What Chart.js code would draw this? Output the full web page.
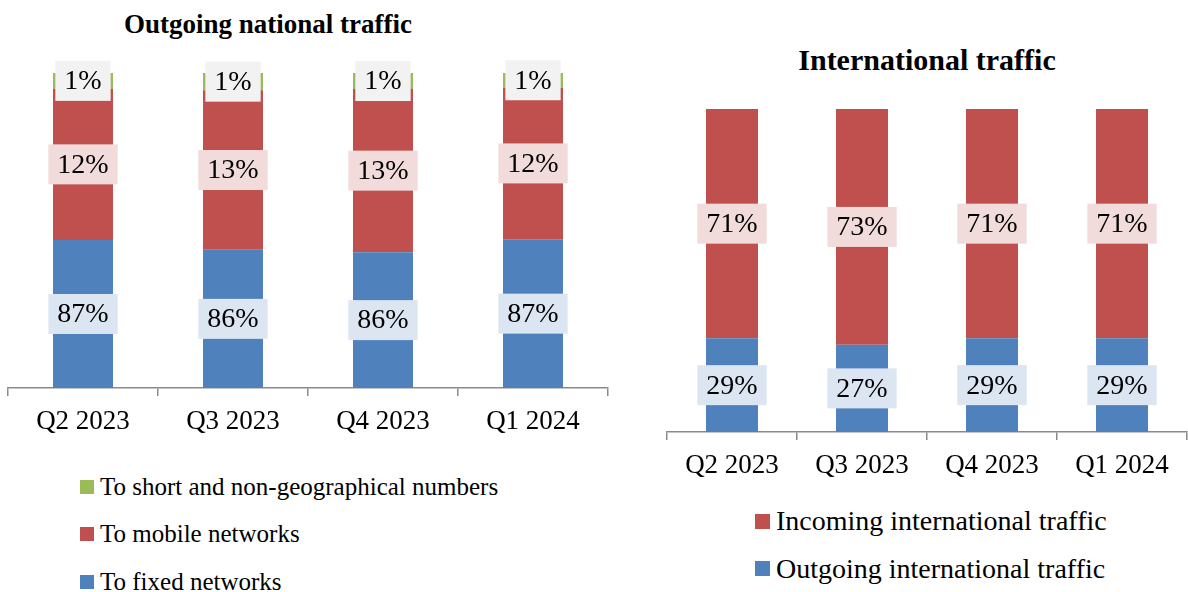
<!DOCTYPE html>
<html>
<head>
<meta charset="utf-8">
<script src="https://cdn.jsdelivr.net/npm/chart.js@4.4.1/dist/chart.umd.min.js"></script>
<style>
  html, body { margin: 0; padding: 0; background: #fff; }
  body { width: 1188px; height: 592px; position: relative; overflow: hidden;
         font-family: 'Liberation Serif', serif; color: #000; }
  .title { position: absolute; font-weight: bold; text-align: center; line-height: 32px; white-space: nowrap; }
  .chart-box { position: absolute; }
  .legend { position: absolute; }
  .legend .row { position: absolute; left: 0; display: flex; align-items: center; white-space: nowrap; }
  .legend .sw { display: inline-block; flex: none; }
</style>
</head>
<body>

<div class="title" style="left:0; width:536px; top:8px; font-size:27px;">Outgoing national traffic</div>
<div class="title" style="left:667px; width:520px; top:44px; font-size:30px;">International traffic</div>

<div class="chart-box" style="left:0; top:0; width:616px; height:440px;"><canvas id="natChart"></canvas></div>
<div class="chart-box" style="left:620px; top:0; width:568px; height:484px;"><canvas id="intChart"></canvas></div>

<div class="legend" id="natLegend" style="left:80px; top:0;"></div>
<div class="legend" id="intLegend" style="left:755px; top:0;"></div>

<script>
/* ── DATA ───────────────────────────────────────────────── */
const quarters = ['Q2 2023', 'Q3 2023', 'Q4 2023', 'Q1 2024'];

// Outgoing national traffic: column segments as drawn in the picture
const fixedNet  = [47.0, 43.9, 43.1, 47.2];
const mobileNet = [48.0, 50.6, 51.8, 48.2];
const shortNum  = [5.0, 5.5, 5.1, 4.6];
// ...and the percentages printed on them
const fixedTags  = ['87%', '86%', '86%', '87%'];
const mobileTags = ['12%', '13%', '13%', '12%'];
const shortTags  = ['1%', '1%', '1%', '1%'];

// International traffic (%)
const outgoingIntl = [29, 27, 29, 29];
const incomingIntl = [71, 73, 71, 71];

/* ── STYLE ──────────────────────────────────────────────── */
const BLUE = '#4f81bd', RED = '#c0504d', GREEN = '#9bbb59';
const AXIS = '#8a8a8a';
const FONT = "'Liberation Serif', serif";

Chart.defaults.font.family = FONT;
Chart.defaults.color = '#000';

/* ── LABEL BOXES ON SEGMENTS ────────────────────────────── */
const tagPlugin = {
    id: 'tags',
    afterDatasetsDraw(chart) {
        const ctx = chart.ctx;
        ctx.save();
        ctx.font = `28px ${FONT}`;
        ctx.textAlign = 'center';
        ctx.textBaseline = 'middle';
        chart.data.datasets.forEach((ds, i) => {
            const tags = ds.tags || ds.data.map(v => v + '%');
            chart.getDatasetMeta(i).data.forEach((bar, j) => {
                const t = tags[j];
                const cy = (bar.y + bar.base) / 2;
                const w = ctx.measureText(t).width + 18;
                const h = 40;
                ctx.fillStyle = ds.tagBg;
                ctx.fillRect(bar.x - w / 2, cy - h / 2, w, h);
                ctx.fillStyle = '#000';
                ctx.fillText(t, bar.x, cy + 1);
            });
        });
        ctx.restore();
    }
};

function barSet(label, data, color, tagBg, tags) {
    return {
        label, data, tags, tagBg,
        backgroundColor: color,
        borderWidth: 0,
        barPercentage: 0.4,
        categoryPercentage: 1.0
    };
}

function makeOptions(pad) {
    return {
        responsive: true,
        maintainAspectRatio: false,
        animation: false,
        layout: { padding: pad },
        plugins: {
            legend: { display: false },
            tooltip: { enabled: false },
            title: { display: false }
        },
        scales: {
            x: {
                stacked: true,
                grid: { display: true, drawOnChartArea: false, drawTicks: true, tickLength: 8, color: AXIS, lineWidth: 1.5 },
                border: { display: true, color: AXIS, width: 1.5 },
                ticks: { color: '#000', font: { size: 27 }, padding: 10, maxRotation: 0 },
                afterFit: s => { s.height = 52; }
            },
            y: { stacked: true, display: false, min: 0, max: 100 }
        }
    };
}

/* ── CHARTS ─────────────────────────────────────────────── */
const natChart = new Chart(document.getElementById('natChart'), {
    type: 'bar',
    data: {
        labels: quarters,
        datasets: [
            barSet('To fixed networks', fixedNet, BLUE, '#dce6f2', fixedTags),
            barSet('To mobile networks', mobileNet, RED, '#f2dcdb', mobileTags),
            barSet('To short and non-geographical numbers', shortNum, GREEN, '#f2f2f2', shortTags)
        ]
    },
    options: makeOptions({ left: 8, right: 8, top: 73, bottom: 0 }),
    plugins: [tagPlugin]
});

const intChart = new Chart(document.getElementById('intChart'), {
    type: 'bar',
    data: {
        labels: quarters,
        datasets: [
            barSet('Outgoing international traffic', outgoingIntl, BLUE, '#dce6f2'),
            barSet('Incoming international traffic', incomingIntl, RED, '#f2dcdb')
        ]
    },
    options: makeOptions({ left: 47, right: 1, top: 109, bottom: 0 }),
    plugins: [tagPlugin]
});

/* ── LEGENDS (top series first) ─────────────────────────── */
function buildLegend(chart, el, centers, sw, fontSize) {
    const sets = chart.data.datasets.slice().reverse();
    sets.forEach((ds, i) => {
        const row = document.createElement('div');
        row.className = 'row';
        row.style.top = (centers[i] - 15) + 'px';
        row.style.height = '30px';
        row.style.lineHeight = '30px';
        row.style.fontSize = fontSize + 'px';
        const box = document.createElement('span');
        box.className = 'sw';
        box.style.width = sw + 'px';
        box.style.height = sw + 'px';
        box.style.marginRight = '6px';
        box.style.background = ds.backgroundColor;
        const txt = document.createElement('span');
        txt.textContent = ds.label;
        row.appendChild(box);
        row.appendChild(txt);
        el.appendChild(row);
    });
}

buildLegend(natChart, document.getElementById('natLegend'), [487, 534, 581.5], 14, 25);
buildLegend(intChart, document.getElementById('intLegend'), [521, 568.5], 15, 28);
</script>
</body>
</html>
